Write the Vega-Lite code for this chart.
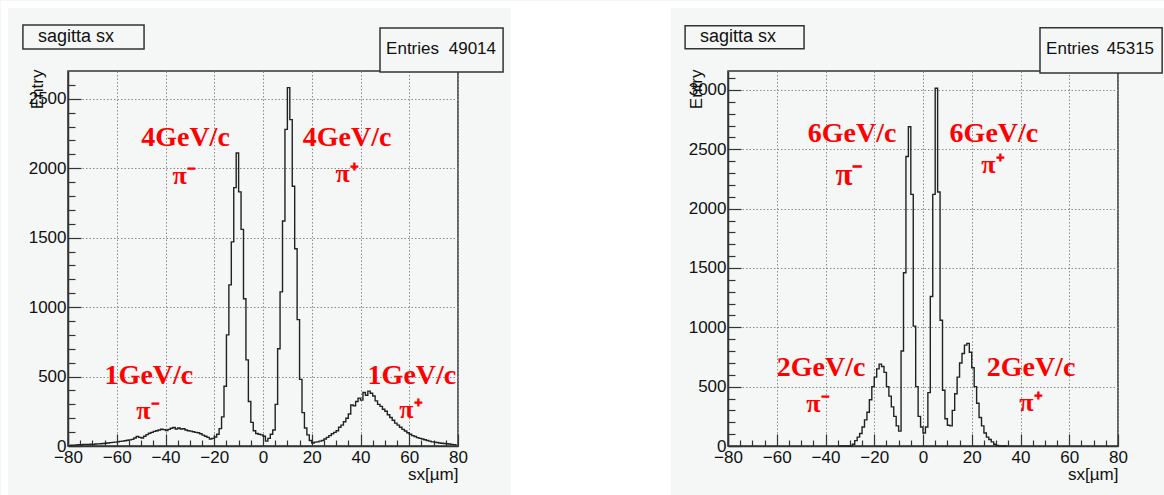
{
  "$schema": "https://vega.github.io/schema/vega-lite/v6.json",
  "autosize": {"type": "pad"},
  "padding": 0,
  "background": "#f4f7f5",
  "spacing": 270,
  "bounds": "flush",
  "config": {
    "view": {"stroke": "#333333", "strokeWidth": 1.5},
    "font": "Liberation Sans",
    "axis": {
      "labelFont": "Liberation Sans", "labelFontSize": 17, "labelColor": "#111111",
      "titleFont": "Liberation Sans", "titleFontSize": 17, "titleFontWeight": "normal", "titleColor": "#111111",
      "domainColor": "#333333", "domainWidth": 1.5,
      "tickColor": "#333333", "tickWidth": 1.2,
      "gridColor": "#8a8a8a", "gridDash": [1.5, 2], "gridWidth": 1,
      "labelFlush": false, "labelOverlap": false, "tickCount": 1000
    }
  },
  "datasets": {
    "left": [
      {"x":-79.5,"n":3},{"x":-78.5,"n":5},{"x":-77.5,"n":6},{"x":-76.5,"n":8},{"x":-75.5,"n":10},{"x":-74.5,"n":9},{"x":-73.5,"n":11},{"x":-72.5,"n":12},{"x":-71.5,"n":11},{"x":-70.5,"n":13},
      {"x":-69.5,"n":12},{"x":-68.5,"n":14},{"x":-67.5,"n":15},{"x":-66.5,"n":16},{"x":-65.5,"n":18},{"x":-64.5,"n":20},{"x":-63.5,"n":22},{"x":-62.5,"n":24},{"x":-61.5,"n":26},{"x":-60.5,"n":28},
      {"x":-59.5,"n":30},{"x":-58.5,"n":33},{"x":-57.5,"n":35},{"x":-56.5,"n":38},{"x":-55.5,"n":41},{"x":-54.5,"n":44},{"x":-53.5,"n":48},{"x":-52.5,"n":58},{"x":-51.5,"n":68},{"x":-50.5,"n":62},
      {"x":-49.5,"n":58},{"x":-48.5,"n":70},{"x":-47.5,"n":82},{"x":-46.5,"n":92},{"x":-45.5,"n":98},{"x":-44.5,"n":105},{"x":-43.5,"n":110},{"x":-42.5,"n":115},{"x":-41.5,"n":121},{"x":-40.5,"n":118},
      {"x":-39.5,"n":112},{"x":-38.5,"n":120},{"x":-37.5,"n":128},{"x":-36.5,"n":133},{"x":-35.5,"n":122},{"x":-34.5,"n":130},{"x":-33.5,"n":122},{"x":-32.5,"n":124},{"x":-31.5,"n":115},{"x":-30.5,"n":110},
      {"x":-29.5,"n":107},{"x":-28.5,"n":103},{"x":-27.5,"n":98},{"x":-26.5,"n":95},{"x":-25.5,"n":88},{"x":-24.5,"n":78},{"x":-23.5,"n":70},{"x":-22.5,"n":62},{"x":-21.5,"n":50},{"x":-20.5,"n":55},
      {"x":-19.5,"n":65},{"x":-18.5,"n":85},{"x":-17.5,"n":125},{"x":-16.5,"n":210},{"x":-15.5,"n":430},{"x":-14.5,"n":800},{"x":-13.5,"n":1160},{"x":-12.5,"n":1470},{"x":-11.5,"n":1860},{"x":-10.5,"n":2110},
      {"x":-9.5,"n":1830},{"x":-8.5,"n":1560},{"x":-7.5,"n":1060},{"x":-6.5,"n":620},{"x":-5.5,"n":320},{"x":-4.5,"n":170},{"x":-3.5,"n":110},{"x":-2.5,"n":90},{"x":-1.5,"n":85},{"x":-0.5,"n":80},
      {"x":0.5,"n":70},{"x":1.5,"n":35},{"x":2.5,"n":55},{"x":3.5,"n":85},{"x":4.5,"n":115},{"x":5.5,"n":300},{"x":6.5,"n":700},{"x":7.5,"n":1110},{"x":8.5,"n":1620},{"x":9.5,"n":2280},
      {"x":10.5,"n":2580},{"x":11.5,"n":2350},{"x":12.5,"n":1870},{"x":13.5,"n":1420},{"x":14.5,"n":910},{"x":15.5,"n":480},{"x":16.5,"n":240},{"x":17.5,"n":130},{"x":18.5,"n":80},{"x":19.5,"n":40},
      {"x":20.5,"n":22},{"x":21.5,"n":28},{"x":22.5,"n":30},{"x":23.5,"n":35},{"x":24.5,"n":40},{"x":25.5,"n":50},{"x":26.5,"n":62},{"x":27.5,"n":75},{"x":28.5,"n":88},{"x":29.5,"n":98},
      {"x":30.5,"n":110},{"x":31.5,"n":135},{"x":32.5,"n":150},{"x":33.5,"n":175},{"x":34.5,"n":200},{"x":35.5,"n":230},{"x":36.5,"n":295},{"x":37.5,"n":290},{"x":38.5,"n":320},{"x":39.5,"n":345},
      {"x":40.5,"n":330},{"x":41.5,"n":385},{"x":42.5,"n":365},{"x":43.5,"n":395},{"x":44.5,"n":380},{"x":45.5,"n":360},{"x":46.5,"n":325},{"x":47.5,"n":300},{"x":48.5,"n":285},{"x":49.5,"n":265},
      {"x":50.5,"n":250},{"x":51.5,"n":225},{"x":52.5,"n":205},{"x":53.5,"n":185},{"x":54.5,"n":165},{"x":55.5,"n":150},{"x":56.5,"n":135},{"x":57.5,"n":120},{"x":58.5,"n":108},{"x":59.5,"n":95},
      {"x":60.5,"n":85},{"x":61.5,"n":75},{"x":62.5,"n":68},{"x":63.5,"n":60},{"x":64.5,"n":55},{"x":65.5,"n":50},{"x":66.5,"n":45},{"x":67.5,"n":40},{"x":68.5,"n":35},{"x":69.5,"n":30},
      {"x":70.5,"n":28},{"x":71.5,"n":25},{"x":72.5,"n":22},{"x":73.5,"n":20},{"x":74.5,"n":18},{"x":75.5,"n":16},{"x":76.5,"n":14},{"x":77.5,"n":12},{"x":78.5,"n":10},{"x":79.5,"n":8}
    ],
    "right": [
      {"x":-34.5,"n":0},{"x":-33.5,"n":0},{"x":-32.5,"n":0},{"x":-31.5,"n":0},{"x":-30.5,"n":0},{"x":-29.5,"n":0},
      {"x":-28.5,"n":15},{"x":-27.5,"n":45},{"x":-26.5,"n":75},{"x":-25.5,"n":105},{"x":-24.5,"n":160},{"x":-23.5,"n":220},{"x":-22.5,"n":285},{"x":-21.5,"n":390},{"x":-20.5,"n":500},
      {"x":-19.5,"n":580},{"x":-18.5,"n":650},{"x":-17.5,"n":690},{"x":-16.5,"n":670},{"x":-15.5,"n":620},{"x":-14.5,"n":500},{"x":-13.5,"n":420},{"x":-12.5,"n":330},{"x":-11.5,"n":250},{"x":-10.5,"n":170},
      {"x":-9.5,"n":125},{"x":-8.5,"n":800},{"x":-7.5,"n":1460},{"x":-6.5,"n":2440},{"x":-5.5,"n":2690},{"x":-4.5,"n":2120},{"x":-3.5,"n":1010},{"x":-2.5,"n":500},{"x":-1.5,"n":250},{"x":-0.5,"n":160},
      {"x":0.5,"n":110},{"x":1.5,"n":160},{"x":2.5,"n":450},{"x":3.5,"n":1260},{"x":4.5,"n":2120},{"x":5.5,"n":3015},{"x":6.5,"n":2140},{"x":7.5,"n":1060},{"x":8.5,"n":470},{"x":9.5,"n":230},
      {"x":10.5,"n":175},{"x":11.5,"n":170},{"x":12.5,"n":300},{"x":13.5,"n":440},{"x":14.5,"n":580},{"x":15.5,"n":700},{"x":16.5,"n":780},{"x":17.5,"n":850},{"x":18.5,"n":865},{"x":19.5,"n":790},
      {"x":20.5,"n":660},{"x":21.5,"n":500},{"x":22.5,"n":360},{"x":23.5,"n":240},{"x":24.5,"n":170},{"x":25.5,"n":110},{"x":26.5,"n":75},{"x":27.5,"n":55},{"x":28.5,"n":35},{"x":29.5,"n":15},
      {"x":30.5,"n":5},{"x":31.5,"n":0},{"x":32.5,"n":0},{"x":33.5,"n":0},{"x":34.5,"n":0}
    ]
  },
  "hconcat": [
    {
      "width": 390,
      "height": 375,
      "layer": [
        {
          "data": {"name": "left"},
          "mark": {"type": "line", "interpolate": "step", "color": "#222222", "strokeWidth": 1.4},
          "encoding": {
            "x": {
              "field": "x", "type": "quantitative",
              "scale": {"domain": [-80, 80], "nice": false, "zero": false},
              "axis": {
                "values": [-80,-75,-70,-65,-60,-55,-50,-45,-40,-35,-30,-25,-20,-15,-10,-5,0,5,10,15,20,25,30,35,40,45,50,55,60,65,70,75,80],
                "tickCount": 1000,
                "format": "d",
                "labelExpr": "datum.value % 20 === 0 ? datum.label : ''",
                "tickSize": {"condition": {"test": "datum.value % 20 === 0", "value": -12}, "value": -6},
                "gridOpacity": {"condition": {"test": "datum.value % 20 === 0", "value": 1}, "value": 0},
                "labelPadding": 15,
                "title": "sx[µm]", "titleX": 390, "titleY": 33, "titleAlign": "right", "titleBaseline": "alphabetic"
              }
            },
            "y": {
              "field": "n", "type": "quantitative",
              "scale": {"domain": [0, 2700], "nice": false},
              "axis": {
                "values": [0,100,200,300,400,500,600,700,800,900,1000,1100,1200,1300,1400,1500,1600,1700,1800,1900,2000,2100,2200,2300,2400,2500,2600],
                "tickCount": 1000,
                "format": "d",
                "labelExpr": "datum.value % 500 === 0 ? datum.label : ''",
                "tickSize": {"condition": {"test": "datum.value % 500 === 0", "value": -13}, "value": -7},
                "gridOpacity": {"condition": {"test": "datum.value % 500 === 0", "value": 1}, "value": 0},
                "labelPadding": 15,
                "title": "Entry", "titleX": -31, "titleY": -2, "titleAlign": "right", "titleBaseline": "middle", "titleAngle": -90
              }
            }
          }
        },
        {
          "data": {"values": [{}]},
          "mark": {"type": "rect", "fill": "#ffffff"},
          "encoding": {"x": {"datum": 101.7, "type": "quantitative"}, "x2": {"datum": 167.4}, "y": {"datum": -360, "type": "quantitative"}, "y2": {"datum": 3204}}
        },
        {
          "data": {"values": [{}]},
          "mark": {"type": "rect", "fill": "#ffffff"},
          "encoding": {"x": {"datum": -107.4872, "type": "quantitative"}, "x2": {"datum": 370.05}, "y": {"datum": 3154, "type": "quantitative"}, "y2": {"datum": 3204}}
        },
        {
          "data": {"values": [{}]},
          "mark": {"type": "rect", "fill": "#ffffff"},
          "encoding": {"x": {"datum": -107.4872, "type": "quantitative"}, "x2": {"datum": -104.6}, "y": {"datum": -360, "type": "quantitative"}, "y2": {"datum": 3204}}
        },
        {"data": {"values": [{}]}, "mark": {"type": "text", "text": "4GeV/c", "font": "Liberation Serif", "fontWeight": "bold", "fontSize": 28, "fill": "#ff0000", "align": "center", "baseline": "middle"}, "encoding": {"x": {"datum": -31.8, "type": "quantitative"}, "y": {"datum": 2218, "type": "quantitative"}}},
        {"data": {"values": [{}]}, "mark": {"type": "text", "text": "π⁻", "font": "Liberation Serif", "fontWeight": "bold", "fontSize": 26, "fill": "#ff0000", "align": "center", "baseline": "middle"}, "encoding": {"x": {"datum": -32.4, "type": "quantitative"}, "y": {"datum": 1944, "type": "quantitative"}}},
        {"data": {"values": [{}]}, "mark": {"type": "text", "text": "4GeV/c", "font": "Liberation Serif", "fontWeight": "bold", "fontSize": 28, "fill": "#ff0000", "align": "center", "baseline": "middle"}, "encoding": {"x": {"datum": 34.5, "type": "quantitative"}, "y": {"datum": 2218, "type": "quantitative"}}},
        {"data": {"values": [{}]}, "mark": {"type": "text", "text": "π⁺", "font": "Liberation Serif", "fontWeight": "bold", "fontSize": 26, "fill": "#ff0000", "align": "center", "baseline": "middle"}, "encoding": {"x": {"datum": 34.5, "type": "quantitative"}, "y": {"datum": 1958, "type": "quantitative"}}},
        {"data": {"values": [{}]}, "mark": {"type": "text", "text": "1GeV/c", "font": "Liberation Serif", "fontWeight": "bold", "fontSize": 28, "fill": "#ff0000", "align": "center", "baseline": "middle"}, "encoding": {"x": {"datum": -46.8, "type": "quantitative"}, "y": {"datum": 504, "type": "quantitative"}}},
        {"data": {"values": [{}]}, "mark": {"type": "text", "text": "π⁻", "font": "Liberation Serif", "fontWeight": "bold", "fontSize": 26, "fill": "#ff0000", "align": "center", "baseline": "middle"}, "encoding": {"x": {"datum": -47.2, "type": "quantitative"}, "y": {"datum": 252, "type": "quantitative"}}},
        {"data": {"values": [{}]}, "mark": {"type": "text", "text": "1GeV/c", "font": "Liberation Serif", "fontWeight": "bold", "fontSize": 28, "fill": "#ff0000", "align": "center", "baseline": "middle"}, "encoding": {"x": {"datum": 61.1, "type": "quantitative"}, "y": {"datum": 504, "type": "quantitative"}}},
        {"data": {"values": [{}]}, "mark": {"type": "text", "text": "π⁺", "font": "Liberation Serif", "fontWeight": "bold", "fontSize": 26, "fill": "#ff0000", "align": "center", "baseline": "middle"}, "encoding": {"x": {"datum": 60.7, "type": "quantitative"}, "y": {"datum": 259, "type": "quantitative"}}},
        {"data": {"values": [{}]}, "mark": {"type": "rect", "fill": "#f4f7f5", "stroke": "#333333", "strokeWidth": 1.5}, "encoding": {"x": {"datum": -98.5, "type": "quantitative"}, "x2": {"datum": -48.8}, "y": {"datum": 2858, "type": "quantitative"}, "y2": {"datum": 3031}}},
        {"data": {"values": [{}]}, "mark": {"type": "text", "text": "sagitta sx", "fontSize": 18, "fill": "#111111", "align": "left", "baseline": "middle"}, "encoding": {"x": {"datum": -92.3, "type": "quantitative"}, "y": {"datum": 2945, "type": "quantitative"}}},
        {"data": {"values": [{}]}, "mark": {"type": "rect", "fill": "#f4f7f5", "stroke": "#333333", "strokeWidth": 1.5}, "encoding": {"x": {"datum": 48.0, "type": "quantitative"}, "x2": {"datum": 98.5}, "y": {"datum": 2693, "type": "quantitative"}, "y2": {"datum": 3010}}},
        {"data": {"values": [{}]}, "mark": {"type": "text", "text": "Entries", "fontSize": 17, "fill": "#111111", "align": "left", "baseline": "middle"}, "encoding": {"x": {"datum": 50.5, "type": "quantitative"}, "y": {"datum": 2855, "type": "quantitative"}}},
        {"data": {"values": [{}]}, "mark": {"type": "text", "text": "49014", "fontSize": 17, "fill": "#111111", "align": "right", "baseline": "middle"}, "encoding": {"x": {"datum": 95.6, "type": "quantitative"}, "y": {"datum": 2855, "type": "quantitative"}}}
      ]
    },
    {
      "width": 390,
      "height": 375,
      "layer": [
        {
          "data": {"name": "right"},
          "mark": {"type": "line", "interpolate": "step", "color": "#222222", "strokeWidth": 1.4},
          "encoding": {
            "x": {
              "field": "x", "type": "quantitative",
              "scale": {"domain": [-80, 80], "nice": false, "zero": false},
              "axis": {
                "values": [-80,-75,-70,-65,-60,-55,-50,-45,-40,-35,-30,-25,-20,-15,-10,-5,0,5,10,15,20,25,30,35,40,45,50,55,60,65,70,75,80],
                "tickCount": 1000,
                "format": "d",
                "labelExpr": "datum.value % 20 === 0 ? datum.label : ''",
                "tickSize": {"condition": {"test": "datum.value % 20 === 0", "value": -12}, "value": -6},
                "gridOpacity": {"condition": {"test": "datum.value % 20 === 0", "value": 1}, "value": 0},
                "labelPadding": 15,
                "title": "sx[µm]", "titleX": 390, "titleY": 33, "titleAlign": "right", "titleBaseline": "alphabetic"
              }
            },
            "y": {
              "field": "n", "type": "quantitative",
              "scale": {"domain": [0, 3160], "nice": false},
              "axis": {
                "values": [0,100,200,300,400,500,600,700,800,900,1000,1100,1200,1300,1400,1500,1600,1700,1800,1900,2000,2100,2200,2300,2400,2500,2600,2700,2800,2900,3000,3100],
                "tickCount": 1000,
                "format": "d",
                "labelExpr": "datum.value % 500 === 0 ? datum.label : ''",
                "tickSize": {"condition": {"test": "datum.value % 500 === 0", "value": -13}, "value": -7},
                "gridOpacity": {"condition": {"test": "datum.value % 500 === 0", "value": 1}, "value": 0},
                "labelPadding": 15,
                "title": "Entry", "titleX": -32, "titleY": -2, "titleAlign": "right", "titleBaseline": "middle", "titleAngle": -90
              }
            }
          }
        },
        {"data": {"values": [{}]}, "mark": {"type": "text", "text": "6GeV/c", "font": "Liberation Serif", "fontWeight": "bold", "fontSize": 28, "fill": "#ff0000", "align": "center", "baseline": "middle"}, "encoding": {"x": {"datum": -29.1, "type": "quantitative"}, "y": {"datum": 2630, "type": "quantitative"}}},
        {"data": {"values": [{}]}, "mark": {"type": "text", "text": "π⁻", "font": "Liberation Serif", "fontWeight": "bold", "fontSize": 31, "fill": "#ff0000", "align": "center", "baseline": "middle"}, "encoding": {"x": {"datum": -30.4, "type": "quantitative"}, "y": {"datum": 2276, "type": "quantitative"}}},
        {"data": {"values": [{}]}, "mark": {"type": "text", "text": "6GeV/c", "font": "Liberation Serif", "fontWeight": "bold", "fontSize": 28, "fill": "#ff0000", "align": "center", "baseline": "middle"}, "encoding": {"x": {"datum": 29.1, "type": "quantitative"}, "y": {"datum": 2630, "type": "quantitative"}}},
        {"data": {"values": [{}]}, "mark": {"type": "text", "text": "π⁺", "font": "Liberation Serif", "fontWeight": "bold", "fontSize": 26, "fill": "#ff0000", "align": "center", "baseline": "middle"}, "encoding": {"x": {"datum": 28.7, "type": "quantitative"}, "y": {"datum": 2369, "type": "quantitative"}}},
        {"data": {"values": [{}]}, "mark": {"type": "text", "text": "2GeV/c", "font": "Liberation Serif", "fontWeight": "bold", "fontSize": 28, "fill": "#ff0000", "align": "center", "baseline": "middle"}, "encoding": {"x": {"datum": -41.8, "type": "quantitative"}, "y": {"datum": 658, "type": "quantitative"}}},
        {"data": {"values": [{}]}, "mark": {"type": "text", "text": "π⁻", "font": "Liberation Serif", "fontWeight": "bold", "fontSize": 26, "fill": "#ff0000", "align": "center", "baseline": "middle"}, "encoding": {"x": {"datum": -43.1, "type": "quantitative"}, "y": {"datum": 354, "type": "quantitative"}}},
        {"data": {"values": [{}]}, "mark": {"type": "text", "text": "2GeV/c", "font": "Liberation Serif", "fontWeight": "bold", "fontSize": 28, "fill": "#ff0000", "align": "center", "baseline": "middle"}, "encoding": {"x": {"datum": 44.3, "type": "quantitative"}, "y": {"datum": 658, "type": "quantitative"}}},
        {"data": {"values": [{}]}, "mark": {"type": "text", "text": "π⁺", "font": "Liberation Serif", "fontWeight": "bold", "fontSize": 26, "fill": "#ff0000", "align": "center", "baseline": "middle"}, "encoding": {"x": {"datum": 44.3, "type": "quantitative"}, "y": {"datum": 362, "type": "quantitative"}}},
        {"data": {"values": [{}]}, "mark": {"type": "rect", "fill": "#f4f7f5", "stroke": "#333333", "strokeWidth": 1.5}, "encoding": {"x": {"datum": -97.6, "type": "quantitative"}, "x2": {"datum": -48.8}, "y": {"datum": 3347, "type": "quantitative"}, "y2": {"datum": 3541}}},
        {"data": {"values": [{}]}, "mark": {"type": "text", "text": "sagitta sx", "fontSize": 18, "fill": "#111111", "align": "left", "baseline": "middle"}, "encoding": {"x": {"datum": -91.5, "type": "quantitative"}, "y": {"datum": 3448, "type": "quantitative"}}},
        {"data": {"values": [{}]}, "mark": {"type": "rect", "fill": "#f4f7f5", "stroke": "#333333", "strokeWidth": 1.5}, "encoding": {"x": {"datum": 48.0, "type": "quantitative"}, "x2": {"datum": 98.1}, "y": {"datum": 3144, "type": "quantitative"}, "y2": {"datum": 3524}}},
        {"data": {"values": [{}]}, "mark": {"type": "text", "text": "Entries", "fontSize": 17, "fill": "#111111", "align": "left", "baseline": "middle"}, "encoding": {"x": {"datum": 50.5, "type": "quantitative"}, "y": {"datum": 3343, "type": "quantitative"}}},
        {"data": {"values": [{}]}, "mark": {"type": "text", "text": "45315", "fontSize": 17, "fill": "#111111", "align": "right", "baseline": "middle"}, "encoding": {"x": {"datum": 94.8, "type": "quantitative"}, "y": {"datum": 3343, "type": "quantitative"}}}
      ]
    }
  ]
}
